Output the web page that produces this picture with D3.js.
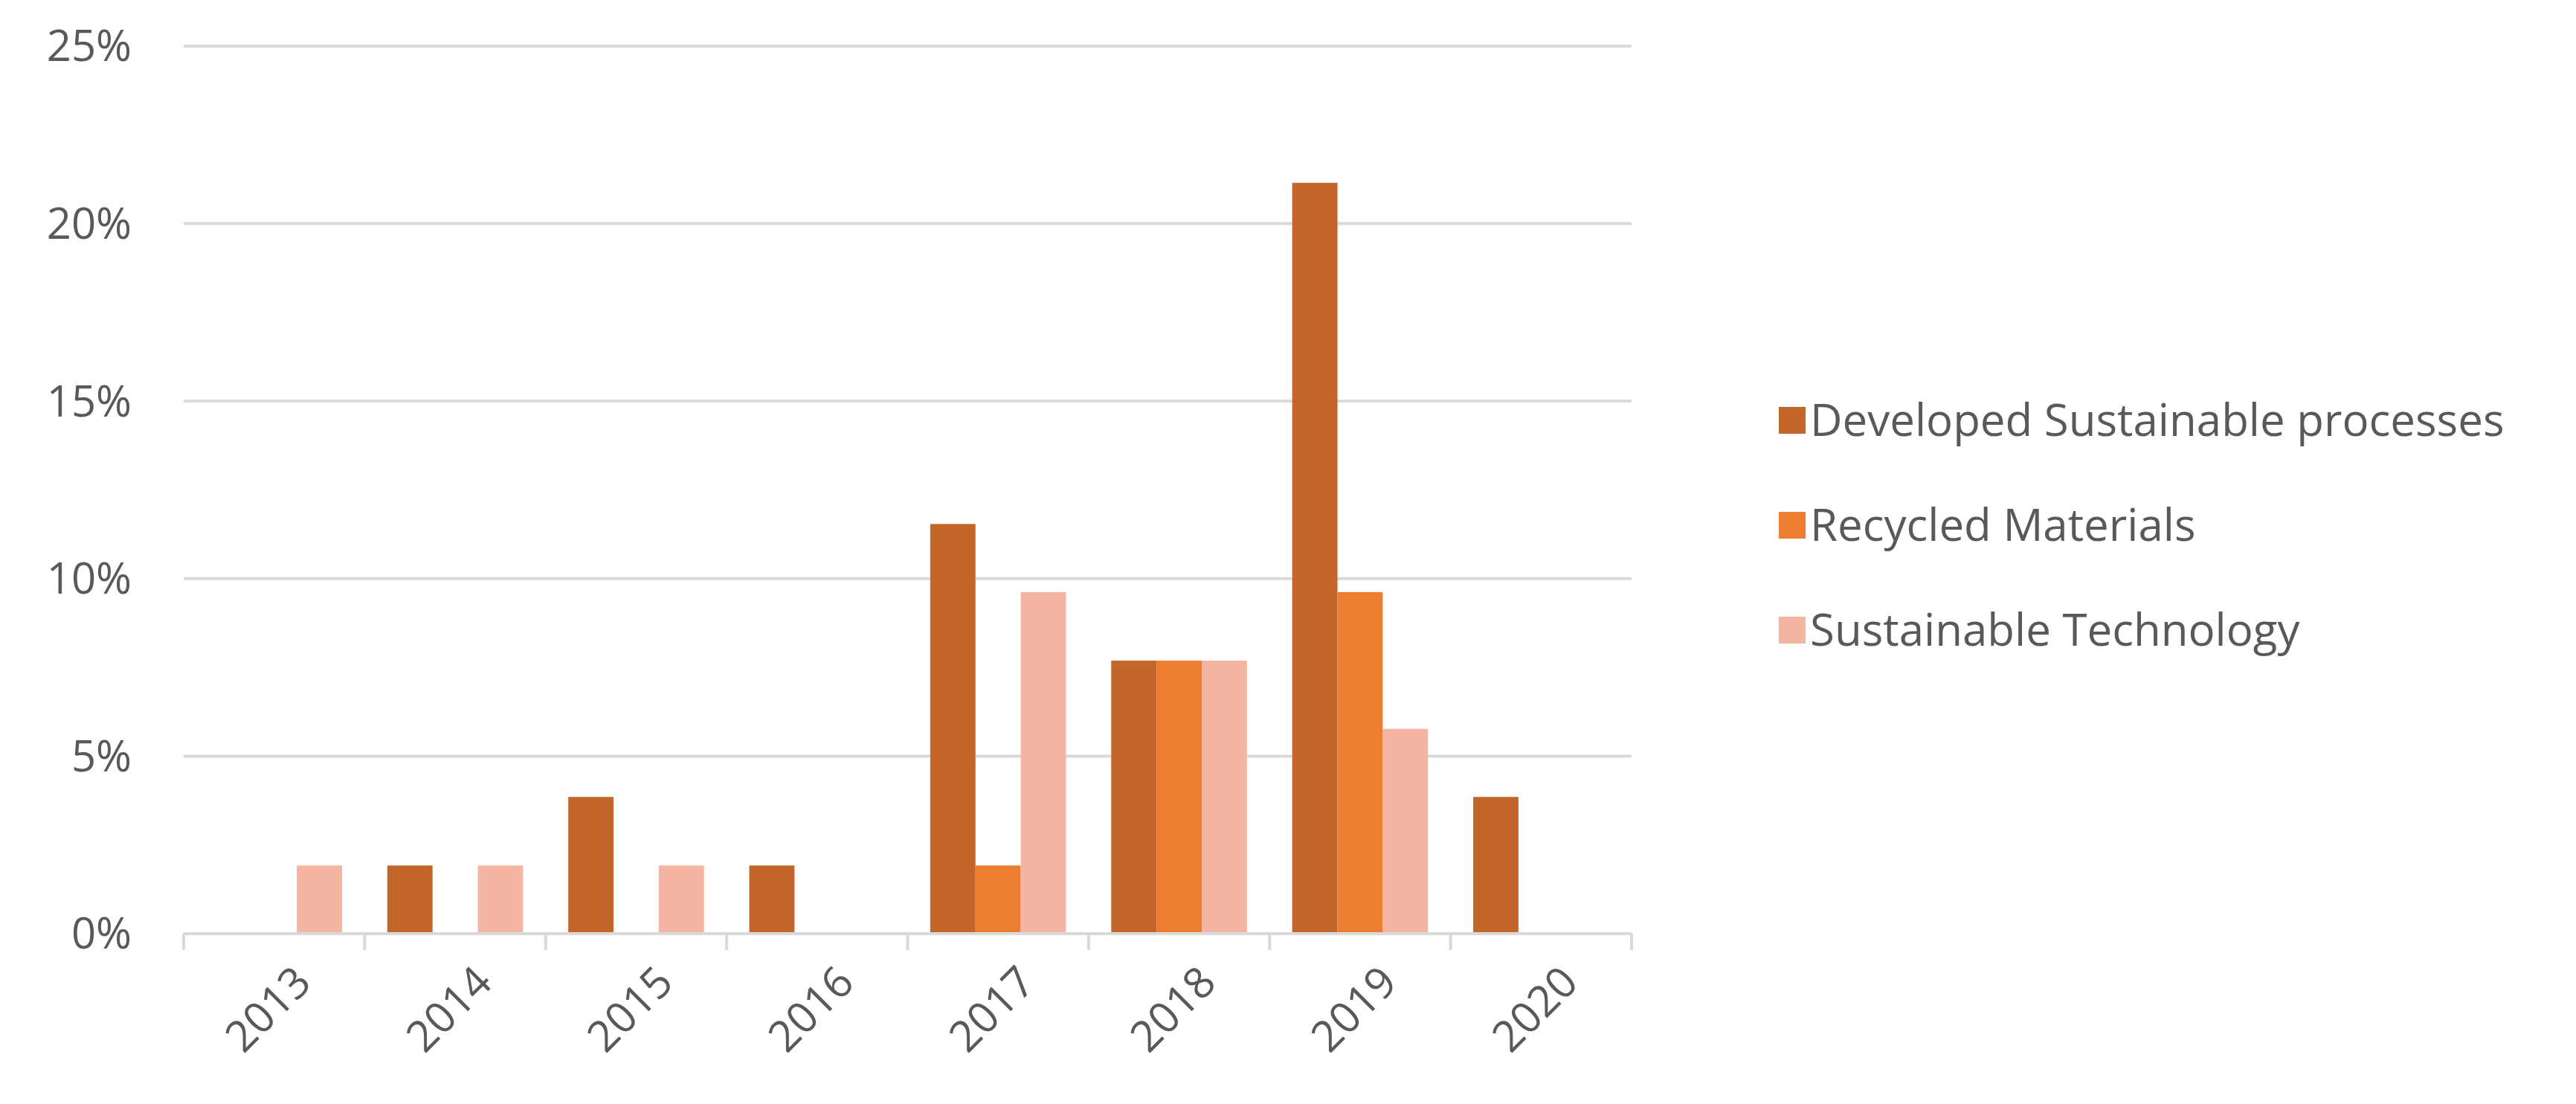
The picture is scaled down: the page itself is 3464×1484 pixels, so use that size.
<!DOCTYPE html>
<html><head><meta charset="utf-8">
<script src="https://cdn.jsdelivr.net/npm/d3@7"></script>
<style>body{margin:0;background:#fff}</style></head>
<body><div id="chart"></div>
<script>
const years = ["2013","2014","2015","2016","2017","2018","2019","2020"];
const seriesNames = ["Developed Sustainable processes","Recycled Materials","Sustainable Technology"];
const developed = [0, 1.92, 3.85, 1.92, 11.54, 7.69, 21.15, 3.85];
const recycled  = [0, 0, 0, 0, 1.92, 7.69, 9.62, 0];
const technology = [1.92, 1.92, 1.92, 0, 9.62, 7.69, 5.77, 0];
const yTicks = [0, 5, 10, 15, 20, 25];
const colors = ["#C4652A", "#ED7D31", "#F4B6A2"];

const W = 3464, H = 1484;
const m = {left: 247, right: 3464 - 2194, top: 62, bottom: H - 1255};
const iw = W - m.left - m.right, ih = H - m.top - m.bottom;
const font = "'Open Sans', 'Liberation Sans', Arial, sans-serif";

const svg = d3.select("#chart").append("svg").attr("width", W).attr("height", H);
const g = svg.append("g").attr("transform", `translate(${m.left},${m.top})`);

const x = d3.scaleBand().domain(years).range([0, iw]).paddingInner(0).paddingOuter(0);
const x1 = d3.scaleBand().domain(seriesNames).range([x.bandwidth()*0.125, x.bandwidth()*0.875]);
const y = d3.scaleLinear().domain([0, 25]).range([ih, 0]);

// gridlines
g.selectAll(".grid").data(yTicks.filter(t => t > 0)).join("line")
  .attr("x1", 0).attr("x2", iw).attr("y1", d => y(d)).attr("y2", d => y(d))
  .attr("stroke", "#d9d9d9").attr("stroke-width", 4);

// y labels
g.selectAll(".ylab").data(yTicks).join("text")
  .attr("x", -70).attr("y", d => y(d)).attr("dy", "0.35em")
  .attr("text-anchor", "end").attr("font-family", font).attr("font-size", 58)
  .attr("fill", "#595959").text(d => d + "%");

// bars
const data = [developed, recycled, technology];
years.forEach((yr, i) => {
  seriesNames.forEach((s, j) => {
    const v = data[j][i];
    if (v <= 0) return;
    g.append("rect").attr("x", x(yr) + x1(s)).attr("width", x1.bandwidth())
      .attr("y", y(v)).attr("height", y(0) - y(v)).attr("fill", colors[j]);
  });
});

// x axis
g.append("line").attr("x1", 0).attr("x2", iw).attr("y1", ih).attr("y2", ih)
  .attr("stroke", "#d9d9d9").attr("stroke-width", 4);
g.selectAll(".xt").data(d3.range(years.length + 1)).join("line")
  .attr("x1", d => d * x.bandwidth()).attr("x2", d => d * x.bandwidth())
  .attr("y1", ih).attr("y2", ih + 22).attr("stroke", "#d9d9d9").attr("stroke-width", 4);
g.selectAll(".xlab").data(years).join("text")
  .attr("transform", d => `translate(${x(d) + x.bandwidth()/2 + 24},${ih + 40}) rotate(-45)`)
  .attr("text-anchor", "end").attr("dy", "0.7em")
  .attr("font-family", font).attr("font-size", 58).attr("fill", "#595959").text(d => d);

// legend
const leg = svg.append("g").attr("transform", "translate(2392,565)");
seriesNames.forEach((s, j) => {
  const row = leg.append("g").attr("transform", `translate(0,${j * 141})`);
  row.append("rect").attr("x", 0).attr("y", -18).attr("width", 36).attr("height", 36).attr("fill", colors[j]);
  row.append("text").attr("x", 42).attr("y", 0).attr("dy", "0.35em")
    .attr("font-family", font).attr("font-size", 60).attr("fill", "#595959").text(s);
});
</script></body></html>
